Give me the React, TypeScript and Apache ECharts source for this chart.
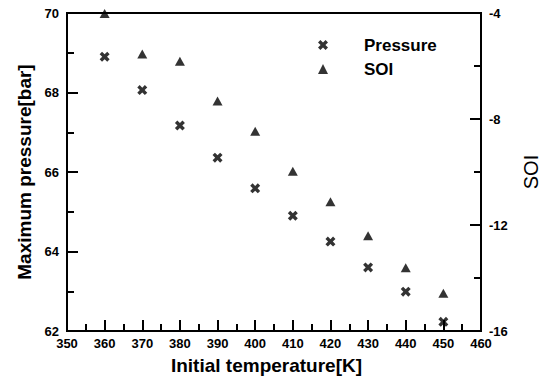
import React, { useEffect, useRef } from "react";
import * as echarts from "echarts";

// Initial temperature [K]
const temperatures = [360, 370, 380, 390, 400, 410, 420, 430, 440, 450];
// Maximum pressure [bar]
const pressure = [68.9, 68.06, 67.17, 66.36, 65.59, 64.9, 64.25, 63.6, 62.99, 62.23];
// Start of injection
const soi = [-4.02, -5.55, -5.82, -7.32, -8.46, -9.97, -11.12, -12.41, -13.61, -14.58];

const FONT = "'Liberation Sans', Arial, sans-serif";
const CROSS =
  "path://M0,2.4L2.4,0L5,2.6L7.6,0L10,2.4L7.4,5L10,7.6L7.6,10L5,7.4L2.4,10L0,7.6L2.6,5Z";

export default function App() {
  const ref = useRef<HTMLDivElement>(null);

  useEffect(() => {
    document.body.style.margin = "0";
    if (!ref.current) return;
    const chart = echarts.init(ref.current, null, { renderer: "svg" });

    const axisLine = { show: true, onZero: false, lineStyle: { color: "#000", width: 2 } };
    const tickLabel = { color: "#000", fontFamily: FONT, fontWeight: "bold" as const, fontSize: 13 };
    const tick = { show: true, inside: true, length: 11, lineStyle: { color: "#000", width: 2 } };
    const minor = { show: true, splitNumber: 2, length: 7, lineStyle: { color: "#000", width: 2 } };

    chart.setOption({
      animation: false,
      backgroundColor: "#fff",
      grid: {
        left: 67,
        right: 73,
        top: 13,
        bottom: 49,
        show: true,
        borderColor: "#000",
        borderWidth: 2,
      },
      legend: {
        left: 313,
        top: 31,
        orient: "vertical",
        itemWidth: 10,
        itemHeight: 10,
        itemGap: 6,
        textStyle: {
          fontFamily: FONT,
          fontWeight: "bold",
          fontSize: 17,
          color: "#000",
          lineHeight: 18,
          padding: [0, 0, 0, 31],
        },
        data: [
          { name: "Pressure", icon: CROSS },
          { name: "SOI", icon: "triangle" },
        ],
      },
      xAxis: {
        type: "value",
        min: 350,
        max: 460,
        interval: 10,
        name: "Initial temperature[K]",
        nameLocation: "middle",
        nameGap: 25,
        nameTextStyle: {
          fontFamily: FONT,
          fontWeight: "bold",
          fontSize: 19,
          color: "#000",
          padding: [0, 15, 0, 0],
        },
        axisLine,
        axisTick: tick,
        minorTick: minor,
        axisLabel: { ...tickLabel, margin: 6 },
        splitLine: { show: false },
      },
      yAxis: [
        {
          type: "value",
          position: "left",
          min: 62,
          max: 70,
          interval: 2,
          name: "Maximum pressure[bar]",
          nameLocation: "middle",
          nameGap: 30,
          nameRotate: 90,
          nameTextStyle: { fontFamily: FONT, fontWeight: "bold", fontSize: 19, color: "#000" },
          axisLine,
          axisTick: tick,
          minorTick: minor,
          axisLabel: { ...tickLabel, margin: 8 },
          splitLine: { show: false },
        },
        {
          type: "value",
          position: "right",
          min: -16,
          max: -4,
          interval: 4,
          name: "SOI",
          nameLocation: "middle",
          nameGap: 40,
          nameRotate: 90,
          nameTextStyle: { fontFamily: FONT, fontSize: 20, color: "#000" },
          axisLine,
          axisTick: tick,
          minorTick: minor,
          axisLabel: { ...tickLabel, margin: 8 },
          splitLine: { show: false },
        },
      ],
      series: [
        {
          name: "Pressure",
          type: "scatter",
          yAxisIndex: 0,
          symbol: CROSS,
          symbolSize: 10,
          itemStyle: { color: "#000" },
          data: temperatures.map((t, i) => [t, pressure[i]]),
        },
        {
          name: "SOI",
          type: "scatter",
          yAxisIndex: 1,
          symbol: "triangle",
          symbolSize: [10, 9],
          itemStyle: { color: "#000" },
          data: temperatures.map((t, i) => [t, soi[i]]),
        },
      ],
    });

    return () => chart.dispose();
  }, []);

  return <div ref={ref} style={{ width: 554, height: 380 }} />;
}
